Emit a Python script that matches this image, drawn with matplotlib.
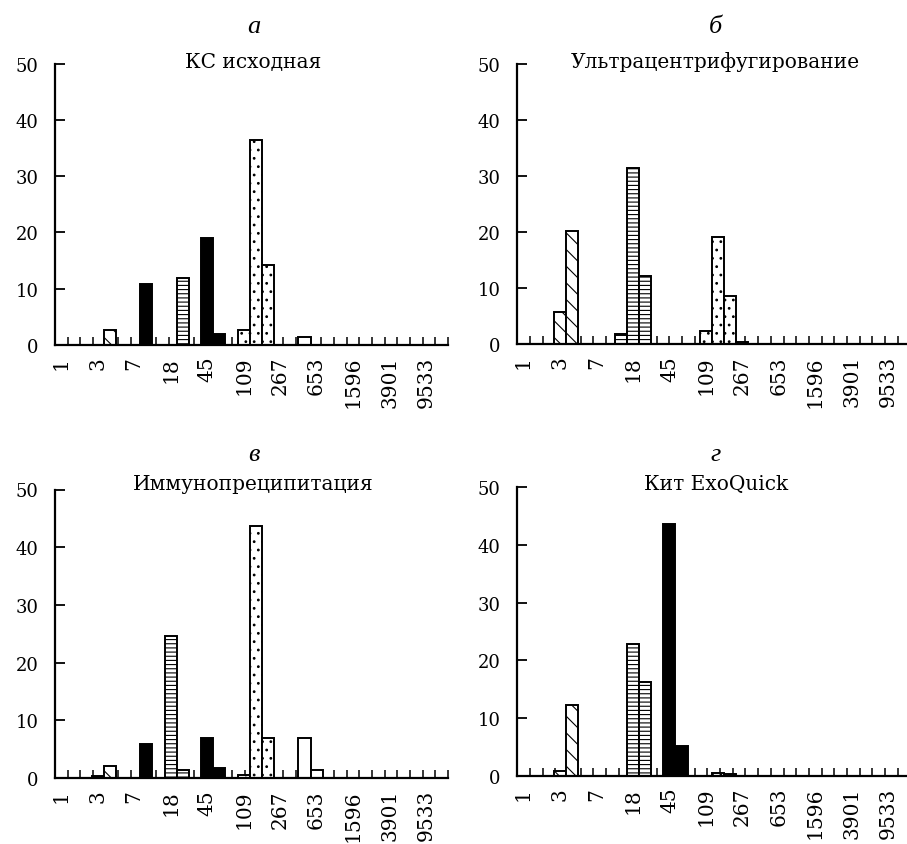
import numpy as np
import matplotlib
matplotlib.use("Agg")
import matplotlib.pyplot as plt

# ---------------- data ----------------
x_labels = ['1', '3', '7', '18', '45', '109', '267', '653', '1596', '3901', '9533']
n_bins = 32

titles = ['КС исходная', 'Ультрацентрифугирование', 'Иммунопреципитация', 'Кит ExoQuick']
letters = ['а', 'б', 'в', 'г']

bins_a = [4, 7, 10, 12, 13, 15, 16, 17, 20]
vals_a = [2.7, 10.8, 11.8, 19.0, 1.9, 2.7, 36.4, 14.2, 1.4]
kind_a = ['diag', 'black', 'horiz', 'black', 'black', 'dots', 'dots', 'dots', 'white']

bins_b = [3, 4, 8, 9, 10, 15, 16, 17, 18]
vals_b = [5.7, 20.1, 1.7, 31.4, 12.1, 2.3, 19.0, 8.6, 0.4]
kind_b = ['diag', 'diag', 'horiz', 'horiz', 'horiz', 'dots', 'dots', 'dots', 'dots']

bins_c = [3, 4, 7, 9, 10, 12, 13, 15, 16, 17, 20, 21]
vals_c = [0.4, 2.0, 5.9, 24.6, 1.45, 6.9, 1.7, 0.5, 43.6, 6.9, 6.9, 1.4]
kind_c = ['black', 'diag', 'black', 'horiz', 'horiz', 'black', 'black', 'dots', 'dots', 'dots', 'white', 'white']

bins_d = [3, 4, 9, 10, 12, 13, 16, 17]
vals_d = [0.8, 12.2, 22.8, 16.2, 43.6, 5.2, 0.4, 0.3]
kind_d = ['diag', 'diag', 'horiz', 'horiz', 'black', 'black', 'dots', 'dots']

# ---------------- style ----------------
plt.rcParams['hatch.linewidth'] = 0.8
styles = {
    'black': dict(facecolor='black', hatch=None),
    'diag': dict(facecolor='white', hatch='\\\\'),
    'horiz': dict(facecolor='white', hatch='----'),
    'dots': dict(facecolor='white', hatch='..'),
    'white': dict(facecolor='white', hatch=None),
}

W, H = 907, 845
fig = plt.figure(figsize=(W / 100, H / 100), dpi=100)

# panel boxes in pixels: left, top (y=50), bottom (y=0)
boxes = [(55, 65, 345.7), (517.3, 64.5, 345.0), (55, 490.5, 779.0), (517.3, 488.3, 776.7)]
ax_w = 393
panels = [(bins_a, vals_a, kind_a), (bins_b, vals_b, kind_b),
          (bins_c, vals_c, kind_c), (bins_d, vals_d, kind_d)]

xmin, xmax = -0.5, n_bins - 0.2
num_font = 'DejaVu Serif'

for i, ((left, top, bottom), (bins, vals, kinds)) in enumerate(zip(boxes, panels)):
    ax = fig.add_axes([left / W, 1 - bottom / H, ax_w / W, (bottom - top) / H])
    for b, v, k in zip(bins, vals, kinds):
        st = styles[k]
        ax.bar(b, v, width=1.0, facecolor=st['facecolor'], hatch=st['hatch'],
               edgecolor='black', linewidth=1.4, zorder=3)
    ax.set_xlim(xmin, xmax)
    ax.set_ylim(0, 50)
    for s in ['top', 'right']:
        ax.spines[s].set_visible(False)
    for s in ['left', 'bottom']:
        ax.spines[s].set_linewidth(1.6)
        ax.spines[s].set_zorder(5)
    ax.set_yticks(np.arange(0, 51, 10))
    ax.tick_params(axis='y', direction='in', length=7, width=1.3, pad=12,
                   labelsize=13)
    ax.set_xticks(np.arange(0, 31, 3))
    ax.set_xticklabels(x_labels, rotation=90)
    ax.tick_params(axis='x', which='major', length=0, pad=8, labelsize=14.5)
    ax.set_xticks(np.linspace(xmin, xmax, 32)[1:], minor=True)
    ax.tick_params(axis='x', which='minor', direction='in', length=5.5, width=1.1)
    for lab in ax.get_xticklabels() + ax.get_yticklabels():
        lab.set_family(num_font)
    cx = (left + ax_w / 2 + 2) / W
    if i < 2:
        ly, ty = 33, 68
    else:
        ly, ty = 461, 490
    fig.text(cx, 1 - ly / H, letters[i], ha='center', va='baseline',
             fontsize=19, style='italic', family='Liberation Serif')
    fig.text(cx, 1 - ty / H, titles[i], ha='center', va='baseline',
             fontsize=14.5, family=num_font)

fig.savefig('out.png', dpi=100)
